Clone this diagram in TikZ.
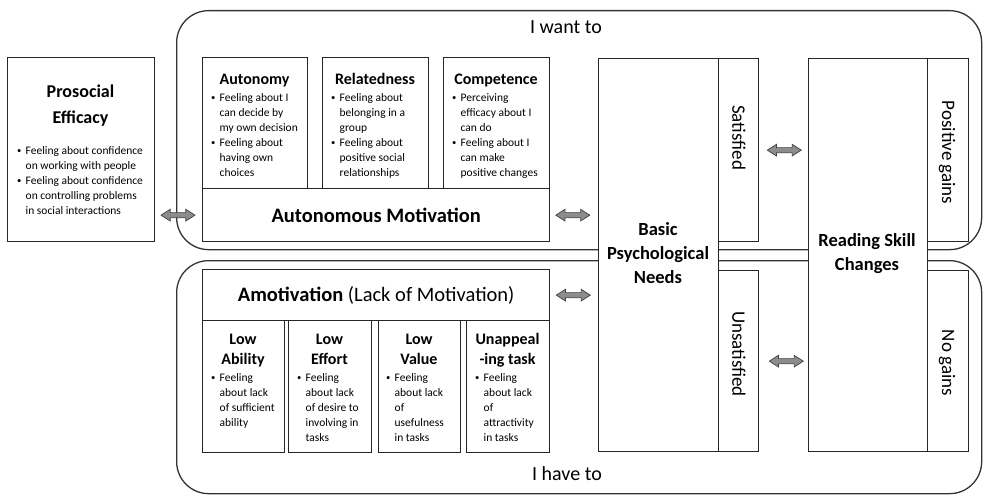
\documentclass[tikz,border=0pt]{standalone}
\usepackage{fontspec}
\setmainfont{Carlito}
\usetikzlibrary{shapes.arrows}

% small bullet used in the point lists
\newcommand{\bl}{\makebox[8.5pt][l]{\raisebox{0.6pt}{\scalebox{0.75}{\textbullet}}}}
% point list: first column bullet, second column text, one row per printed line
\newcommand{\plist}[1]{\begin{tabular}[t]{@{}l@{}l@{}}#1\end{tabular}}

\tikzset{
  zone/.style={draw=black!80, line width=1.3pt, rounded corners=32pt, inner sep=0pt, anchor=north west},
  box/.style={draw=black!85, line width=1.3pt, fill=white, inner sep=0pt, anchor=north west},
  dbl/.style={double arrow, draw=black!75, fill=black!45, line width=0.7pt,
    minimum height=34pt, inner sep=2.2pt, double arrow head extend=3.3pt,
    double arrow tip angle=65},
  ttl/.style={font=\bfseries\fontsize{16}{20}\selectfont, align=center, anchor=base, inner sep=0pt},
  bigttl/.style={font=\bfseries\fontsize{18.5}{24}\selectfont, align=center, inner sep=0pt},
  lst/.style={font=\fontsize{11.5}{15}\selectfont, anchor=base west, inner sep=0pt},
  side/.style={font=\fontsize{19}{23}\selectfont, rotate=-90, inner sep=0pt},
  zonelbl/.style={font=\fontsize{20}{24}\selectfont, inner sep=0pt},
  band/.style={font=\fontsize{20.5}{24}\selectfont, inner sep=0pt},
}

\begin{document}
\begin{tikzpicture}[x=1pt, y=-1pt]
\useasboundingbox (0,0) rectangle (983,495);

% the two motivation zones
\node[zone, minimum width=805pt, minimum height=239pt] (want) at (176,10) {};
\node[zone, minimum width=805pt, minimum height=233pt] (have) at (176,260) {};
\node[zonelbl] (wantlbl) at (566,27) {I want to};
\node[zonelbl] (havelbl) at (567,474) {I have to};

% prosocial efficacy (multi-line titles are placed by their last baseline)
\node[box, minimum width=147pt, minimum height=184pt] (pro) at (7,57) {};
\node[font=\bfseries\fontsize{18}{25}\selectfont, align=center, anchor=base, inner sep=0pt]
  (protitle) at (80.5,123) {Prosocial\\Efficacy};
\node[lst] (prolist) at (17,154) {\plist{%
  \bl & Feeling about confidence\\
      & on working with people\\
  \bl & Feeling about confidence\\
      & on controlling problems\\
      & in social interactions}};

% autonomous motivation and its three needs
\node[box, minimum width=105pt, minimum height=131pt] (auto) at (202,57) {};
\node[box, minimum width=106pt, minimum height=131pt] (rel) at (322,57) {};
\node[box, minimum width=106pt, minimum height=131pt] (comp) at (443,57) {};
\node[box, minimum width=347pt, minimum height=53pt] (am) at (202,188) {};
\node[band, font=\bfseries\fontsize{20.5}{24}\selectfont] (amtxt) at (am.center) {Autonomous Motivation};

\node[ttl] (autot) at (254.5,84.5) {Autonomy};
\node[lst] (autol) at (211,101) {\plist{%
  \bl & Feeling about I\\
      & can decide by\\
      & my own decision\\
  \bl & Feeling about\\
      & having own\\
      & choices}};

\node[ttl] (relt) at (375,84.5) {Relatedness};
\node[lst] (rell) at (331,101) {\plist{%
  \bl & Feeling about\\
      & belonging in a\\
      & group\\
  \bl & Feeling about\\
      & positive social\\
      & relationships}};

\node[ttl] (compt) at (496,84.5) {Competence};
\node[lst] (compl) at (452,101) {\plist{%
  \bl & Perceiving\\
      & efficacy about I\\
      & can do\\
  \bl & Feeling about I\\
      & can make\\
      & positive changes}};

% amotivation and its four sources
\node[box, minimum width=347pt, minimum height=51pt] (amot) at (202,269) {};
\node[band] (amottxt) at (amot.center)
  {\textbf{Amotivation} (Lack of Motivation)};

\node[box, minimum width=82pt, minimum height=132pt] (lowa) at (202,320) {};
\node[box, minimum width=83pt, minimum height=132pt] (lowe) at (288,320) {};
\node[box, minimum width=82pt, minimum height=132pt] (lowv) at (378,320) {};
\node[box, minimum width=83pt, minimum height=132pt] (unap) at (466,320) {};

\node[ttl] (lowat) at (243,364) {Low\\Ability};
\node[lst] (lowal) at (211,381) {\plist{%
  \bl & Feeling\\
      & about lack\\
      & of sufficient\\
      & ability}};

\node[ttl] (lowet) at (329.5,364) {Low\\Effort};
\node[lst] (lowel) at (297,381) {\plist{%
  \bl & Feeling\\
      & about lack\\
      & of desire to\\
      & involving in\\
      & tasks}};

\node[ttl] (lowvt) at (419,364) {Low\\Value};
\node[lst] (lowvl) at (386,381) {\plist{%
  \bl & Feeling\\
      & about lack\\
      & of\\
      & usefulness\\
      & in tasks}};

\node[ttl] (unapt) at (507.5,364) {Unappeal\\-ing task};
\node[lst] (unapl) at (475,381) {\plist{%
  \bl & Feeling\\
      & about lack\\
      & of\\
      & attractivity\\
      & in tasks}};

% basic psychological needs
\node[box, minimum width=120pt, minimum height=393pt] (bpn) at (598,58) {};
\node[bigttl] (bpntxt) at (658,253) {Basic\\Psychological\\Needs};
\node[box, minimum width=40pt, minimum height=183pt] (sat) at (718,58) {};
\node[box, minimum width=40pt, minimum height=181pt] (unsat) at (718,270) {};
\node[side] (sattxt) at (739,137.5) {Satisfied};
\node[side] (unsattxt) at (739,354) {Unsatisfied};

% reading skill changes
\node[box, minimum width=119pt, minimum height=393pt] (rsc) at (808,58) {};
\node[bigttl] (rsctxt) at (867,254) {Reading Skill\\Changes};
\node[box, minimum width=41pt, minimum height=183pt] (pos) at (927,58) {};
\node[box, minimum width=41pt, minimum height=181pt] (nog) at (927,270) {};
\node[side] (postxt) at (947,152.5) {Positive gains};
\node[side] (nogtxt) at (947,363) {No gains};

% two-way block arrows
\node[dbl] (a1) at ([xshift=-24pt]am.west) {};
\node[dbl] (a2) at ([xshift=22.5pt]am.east) {};
\node[dbl] (a3) at ([xshift=23pt]amot.east) {};
\node[dbl] (a4) at ([xshift=25pt]sat.east) {};
\node[dbl] (a5) at ([xshift=27pt]unsat.east) {};
\end{tikzpicture}
\end{document}
